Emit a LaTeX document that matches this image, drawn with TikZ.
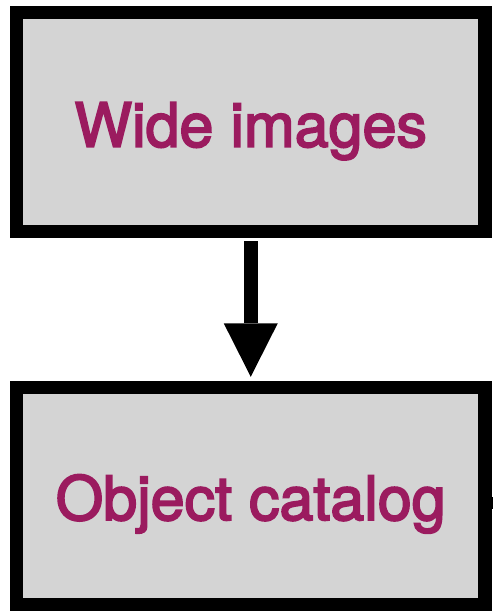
\documentclass[tikz,border=0pt]{standalone}
\usepackage{fontspec}
\setmainfont{TeX Gyre Heros}
\newfontfamily\stagefont{TeX Gyre Heros}[RawFeature={embolden=3}]
\usetikzlibrary{arrows.meta}
\definecolor{boxfill}{HTML}{D4D4D4}
\definecolor{labelcol}{HTML}{9B1B5F}
\tikzset{
  x=1pt, y=1pt,
  stage/.style={draw=black, line width=13.5pt, fill=boxfill, rectangle,
    minimum width=468.5pt, inner sep=0pt, text=labelcol,
    font=\stagefont\fontsize{61}{70}\selectfont, text depth=0pt},
  flow/.style={line width=14pt,
    -{Triangle[length=53.4pt, width=54pt, line width=0pt]}},
}
\begin{document}
\begin{tikzpicture}
  \useasboundingbox (0,0) rectangle (493,-611);
  \clip (0,0) rectangle (493,-611);

  \node[stage, minimum height=219pt, text height=49.4pt]
    (wide) at (250.75,-122) {Wide images};
  \node[stage, minimum height=217.7pt, text height=47.6pt]
    (catalog) at (250.75,-496.2) {Object catalog};

  \draw[flow, shorten <=2.75pt, shorten >=3.85pt] (wide.south) -- (catalog.north);

  % outgoing connector leaving the catalog box on the right
  \coordinate (onward) at (510,-502.5);
  \draw[line width=12pt] (catalog.east |- onward) -- (onward);
\end{tikzpicture}
\end{document}
